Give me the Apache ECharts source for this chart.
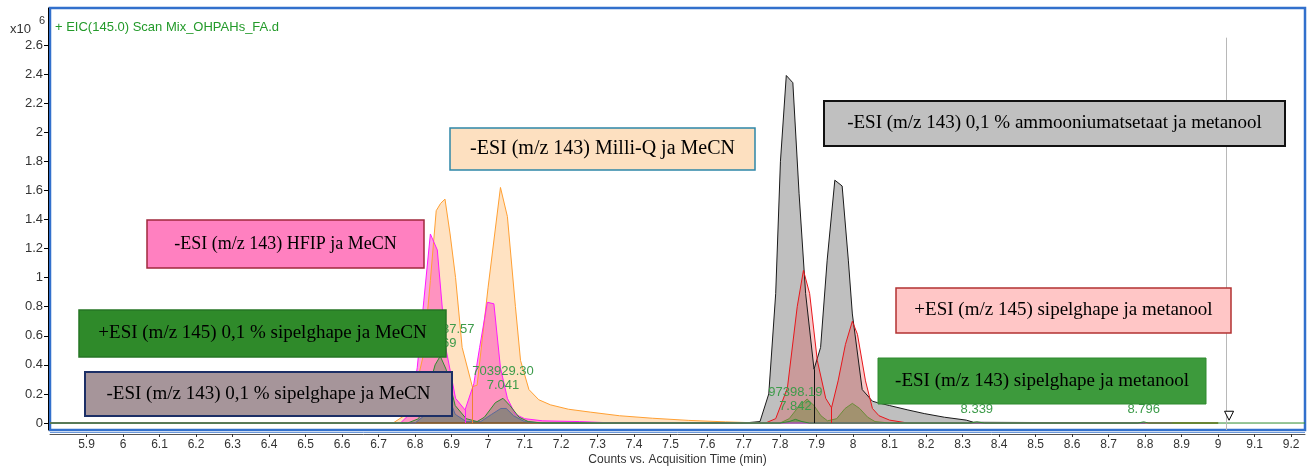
<!DOCTYPE html>
<html>
<head>
<meta charset="utf-8">
<script src="https://cdn.jsdelivr.net/npm/echarts@6.0.0/dist/echarts.min.js"></script>
<style>
  html, body { margin: 0; padding: 0; background: #fff; }
  #chart { width: 1309px; height: 466px; }
</style>
</head>
<body>
<div id="chart"></div>
<script>
// Axis ticks (time in min, counts in 10^6)
const xTicks = [5.9, 6, 6.1, 6.2, 6.3, 6.4, 6.5, 6.6, 6.7, 6.8, 6.9, 7, 7.1, 7.2, 7.3, 7.4, 7.5, 7.6, 7.7, 7.8, 7.9, 8, 8.1, 8.2, 8.3, 8.4, 8.5, 8.6, 8.7, 8.8, 8.9, 9, 9.1, 9.2];
const yTicks = [0, 0.2, 0.4, 0.6, 0.8, 1, 1.2, 1.4, 1.6, 1.8, 2, 2.2, 2.4, 2.6];

// Trace names
const traceNames = [
  '-ESI (m/z 143) Milli-Q ja MeCN',
  '-ESI (m/z 143) 0,1 % ammooniumatsetaat ja metanool',
  '-ESI (m/z 143) HFIP ja MeCN',
  '+ESI (m/z 145) 0,1 % sipelghape ja MeCN',
  '-ESI (m/z 143) 0,1 % sipelghape ja MeCN',
  '+ESI (m/z 145) sipelghape ja metanool',
  '-ESI (m/z 143) sipelghape ja metanool'
];

// Chromatograms: [time (min), counts (x10^6)]
const milliQMeCN = [[5.80,0],[6.74,0],[6.77,0.05],[6.80,0.22],[6.824,0.48],[6.842,0.98],[6.858,1.46],[6.870,1.51],[6.882,1.54],[6.896,1.30],[6.911,1.0],[6.929,0.52],[6.957,0.25],[6.970,0.26],[7.000,0.93],[7.034,1.62],[7.053,1.42],[7.075,0.80],[7.089,0.43],[7.112,0.23],[7.139,0.16],[7.171,0.125],[7.22,0.095],[7.28,0.075],[7.36,0.05],[7.45,0.033],[7.55,0.018],[7.65,0.008],[7.75,0],[9.0,0]];
const ammoniumAcetateMeOH = [[5.80,0],[7.70,0],[7.745,0.01],[7.769,0.2],[7.788,0.89],[7.801,1.80],[7.817,2.39],[7.835,2.34],[7.852,1.58],[7.870,0.89],[7.893,0.37],[7.911,0.52],[7.929,1.12],[7.950,1.67],[7.970,1.63],[7.987,1.12],[7.998,0.75],[8.025,0.23],[8.053,0.15],[8.067,0.14],[8.10,0.12],[8.15,0.09],[8.195,0.065],[8.25,0.04],[8.31,0.02],[8.33,0.005],[8.55,0.003],[9.0,0]];
const hfipMeCN = [[5.80,0],[6.76,0],[6.785,0.06],[6.806,0.38],[6.824,0.84],[6.842,1.30],[6.861,1.19],[6.884,0.52],[6.911,0.17],[6.937,0.09],[6.961,0.27],[6.977,0.52],[6.998,0.83],[7.016,0.82],[7.034,0.38],[7.053,0.17],[7.075,0.06],[7.10,0.03],[7.15,0.015],[7.25,0.01],[7.35,0],[8.875,0]];
const formicMeCNpos = [[5.80,0],[6.78,0],[6.81,0.03],[6.835,0.22],[6.855,0.40],[6.869,0.46],[6.885,0.37],[6.91,0.12],[6.94,0.03],[6.97,0.01],[6.99,0.04],[7.02,0.14],[7.041,0.17],[7.06,0.12],[7.085,0.04],[7.11,0.01],[7.15,0],[7.80,0],[7.825,0.01],[7.842,0.025],[7.86,0.01],[7.88,0],[8.32,0],[8.339,0.008],[8.36,0],[8.78,0],[8.796,0.008],[8.81,0],[9.238,0]];
const formicMeCNneg = [[5.80,0],[6.80,0],[6.83,0.06],[6.855,0.24],[6.869,0.30],[6.885,0.23],[6.91,0.06],[6.94,0.01],[6.98,0.01],[7.01,0.06],[7.035,0.10],[7.05,0.10],[7.07,0.05],[7.10,0.01],[7.15,0],[8.8,0]];
const formicMeOHpos = [[5.80,0],[7.76,0],[7.788,0.03],[7.820,0.24],[7.847,0.80],[7.864,1.05],[7.881,0.89],[7.902,0.43],[7.925,0.17],[7.941,0.105],[7.959,0.29],[7.979,0.54],[7.998,0.70],[8.012,0.61],[8.034,0.29],[8.053,0.10],[8.071,0.05],[8.10,0.02],[8.15,0],[9.0,0]];
const formicMeOHneg = [[5.80,0],[7.80,0],[7.825,0.03],[7.850,0.11],[7.874,0.165],[7.893,0.12],[7.912,0.05],[7.930,0.015],[7.955,0.03],[7.978,0.10],[7.998,0.135],[8.018,0.10],[8.040,0.04],[8.06,0.01],[8.10,0],[9.0,0]];

// Integration split times (valleys)
const milliQSplits = [6.957];
const hfipSplits = [6.937];
const ammoniumSplits = [7.893];
const formicMeOHposSplits = [7.941];

// Peak annotations on the +EIC(145.0) trace
const peakTimes = [6.869, 7.041, 7.842, 8.339, 8.796];
const peakAreas = ['1821587.57', '703929.30', '97398.19', '', ''];

// Cursor
const cursorTime = 9.022;
const cursorTop = 2.65;
const cursorMarker = [9.03, 0.05];

const Y_MIN = -0.048, Y_MAX = 2.854;
const X_MIN = 5.80, X_MAX = 9.238;
const SANS = '"Liberation Sans", Arial, sans-serif';

function valueAt(data, t) {
  let best = data[0];
  for (const p of data) if (Math.abs(p[0] - t) < Math.abs(best[0] - t)) best = p;
  return best[1];
}

function splitLines(data, times, color) {
  return {
    symbol: ['none', 'none'], silent: true, animation: false,
    label: { show: false },
    lineStyle: { color: color, width: 1, type: 'solid' },
    data: times.map(t => [{ coord: [t, 0] }, { coord: [t, valueAt(data, t)] }])
  };
}

function trace(name, data, line, fill, extra) {
  return Object.assign({
    name: name, type: 'line', data: data,
    showSymbol: false, symbol: 'none', animation: false,
    lineStyle: { color: line, width: 1 },
    itemStyle: { color: line },
    areaStyle: { color: fill, opacity: 1 }
  }, extra || {});
}

const series = [
  trace(traceNames[1], ammoniumAcetateMeOH, '#1a1a1a', 'rgba(170,170,170,0.75)',
        { markLine: splitLines(ammoniumAcetateMeOH, ammoniumSplits, '#111') }),
  trace(traceNames[5], formicMeOHpos, '#e8161b', 'rgba(225,60,60,0.28)',
        { markLine: splitLines(formicMeOHpos, formicMeOHposSplits, '#e8161b') }),
  trace(traceNames[0], milliQMeCN, '#ffa033', 'rgba(255,190,120,0.45)',
        { markLine: splitLines(milliQMeCN, milliQSplits, '#f08030') }),
  trace(traceNames[2], hfipMeCN, '#ff19ff', 'rgba(255,60,190,0.48)',
        { markLine: splitLines(hfipMeCN, hfipSplits, '#ff19ff') }),
  trace(traceNames[6], formicMeOHneg, '#6b8c3a', 'rgba(90,130,30,0.35)'),
  trace(traceNames[4], formicMeCNneg, '#5a6a9a', 'rgba(100,100,130,0.4)'),
  trace(traceNames[3], formicMeCNpos, '#2e8b2e', 'rgba(60,140,60,0.35)', {
    markLine: {
      symbol: ['none', 'none'], silent: true, animation: false,
      label: { show: false },
      lineStyle: { color: '#b8b8b8', width: 1, type: 'solid' },
      data: [[{ coord: [cursorTime, Y_MIN] }, { coord: [cursorTime, cursorTop] }]]
    },
    markPoint: {
      silent: true, animation: false,
      data: peakTimes.map((t, i) => ({
        coord: [t, valueAt(formicMeCNpos, t)],
        symbol: 'circle', symbolSize: 1,
        itemStyle: { color: 'rgba(0,0,0,0)' },
        label: {
          show: true, position: 'top', distance: 5,
          formatter: peakAreas[i] ? peakAreas[i] + '\n' + t.toFixed(3) : t.toFixed(3),
          color: '#3d9b4a', fontSize: 13, lineHeight: 14, fontFamily: SANS
        }
      })).concat([{
        coord: cursorMarker, symbol: 'triangle', symbolRotate: 180, symbolSize: [9, 9],
        itemStyle: { color: '#fff', borderColor: '#000', borderWidth: 1 },
        label: { show: false }
      }])
    }
  })
];

// Annotation boxes, same order as traceNames
const boxLayout = [
  { x: 450, y: 128, w: 305, h: 42, fill: '#fde0c0', stroke: '#2e87a8', lw: 1.5, fs: 20 },
  { x: 824, y: 101, w: 461, h: 45, fill: '#c0c0c0', stroke: '#111111', lw: 2, fs: 19 },
  { x: 147, y: 220, w: 277, h: 48, fill: '#ff80c0', stroke: '#a0283c', lw: 1.5, fs: 18 },
  { x: 79,  y: 310, w: 367, h: 47, fill: '#2f8a2a', stroke: '#267524', lw: 1.5, fs: 19 },
  { x: 85,  y: 372, w: 367, h: 44, fill: '#a6959a', stroke: '#1c2f66', lw: 2, fs: 19 },
  { x: 896, y: 288, w: 335, h: 45, fill: '#ffc6c6', stroke: '#b23232', lw: 1.5, fs: 19 },
  { x: 878, y: 358, w: 328, h: 46, fill: '#3d9a3c', stroke: '#2f8a2f', lw: 1, fs: 19 }
];

const graphic = [];
boxLayout.forEach((b, i) => {
  graphic.push({
    type: 'rect', z: 100, silent: true,
    shape: { x: b.x, y: b.y, width: b.w, height: b.h },
    style: { fill: b.fill, stroke: b.stroke, lineWidth: b.lw }
  });
  graphic.push({
    type: 'text', z: 101, silent: true,
    x: b.x + b.w / 2, y: b.y + b.h / 2,
    style: {
      text: traceNames[i], fill: '#000',
      font: b.fs + 'px "Liberation Serif", "Times New Roman", serif',
      align: 'center', verticalAlign: 'middle'
    }
  });
});
graphic.push({
  type: 'text', z: 101, silent: true, x: 55, y: 27,
  style: { text: '+ EIC(145.0) Scan Mix_OHPAHs_FA.d', fill: '#239a2a',
           font: '13px ' + SANS, verticalAlign: 'middle' }
});
graphic.push({
  type: 'text', z: 101, silent: true, x: 10, y: 29,
  style: { text: 'x10', fill: '#333', font: '13px ' + SANS, verticalAlign: 'middle' }
});
graphic.push({
  type: 'text', z: 101, silent: true, x: 39, y: 21,
  style: { text: '6', fill: '#333', font: '11px ' + SANS, verticalAlign: 'middle' }
});
// Second frame line under the plot border
graphic.push({
  type: 'line', z: 1, silent: true,
  shape: { x1: 50, y1: 432.5, x2: 1305, y2: 432.5 },
  style: { stroke: '#6d98d8', lineWidth: 1 }
});

const chart = echarts.init(document.getElementById('chart'), null, { renderer: 'canvas' });
chart.setOption({
  animation: false,
  backgroundColor: '#fff',
  grid: {
    left: 50, right: 4, top: 8, bottom: 36,
    outerBoundsMode: 'none', containLabel: false,
    show: true, borderColor: '#3270cc', borderWidth: 2.5, backgroundColor: '#fff'
  },
  xAxis: {
    type: 'value', min: X_MIN, max: X_MAX, offset: 4,
    name: 'Counts vs. Acquisition Time (min)', nameLocation: 'middle', nameGap: 20,
    nameMoveOverlap: false,
    nameTextStyle: { color: '#333', fontSize: 12, fontFamily: SANS },
    axisLine: { show: true, onZero: false, lineStyle: { color: '#555', width: 1 } },
    axisTick: { show: true, length: 3, customValues: xTicks, lineStyle: { color: '#333' } },
    axisLabel: { customValues: xTicks, margin: 5, color: '#333', fontSize: 12, fontFamily: SANS },
    splitLine: { show: false }
  },
  yAxis: {
    type: 'value', min: Y_MIN, max: Y_MAX, offset: 2,
    axisLine: { show: true, onZero: false, lineStyle: { color: '#000', width: 1 } },
    axisTick: { show: true, length: 4, customValues: yTicks, lineStyle: { color: '#000' } },
    axisLabel: { customValues: yTicks, margin: 5, color: '#333', fontSize: 13, fontFamily: SANS },
    splitLine: { show: false }
  },
  series: series,
  graphic: graphic
});
</script>
</body>
</html>
